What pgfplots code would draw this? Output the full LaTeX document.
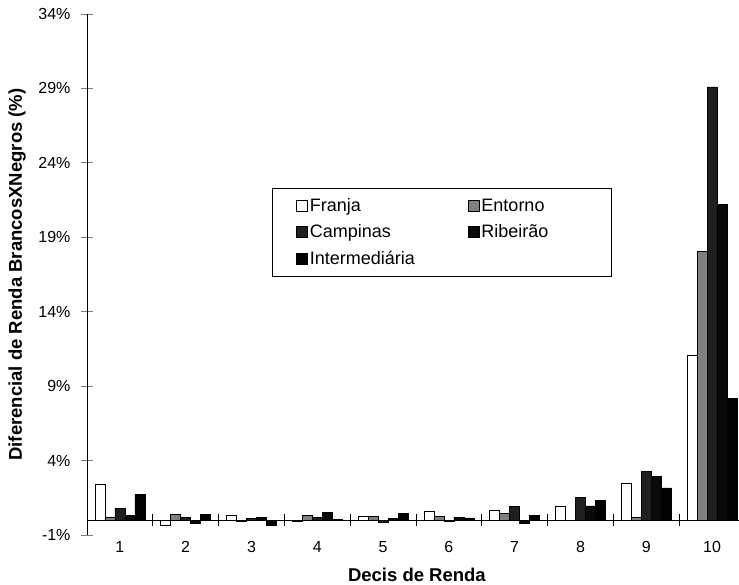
\documentclass[border=0pt]{standalone}
\usepackage{pgfplots}
\pgfplotsset{compat=1.18}
\usepackage{fontspec}
\setmainfont{Liberation Sans}
\newcommand{\tl}{\fontsize{16}{19}\selectfont}
\pgfplotsset{
  sqlegend/.style={legend image code/.code={\draw[##1,draw=black,line width=0.6pt] (0pt,-5.5pt) rectangle (11pt,5.5pt);}},
  mybar/.style={ybar, bar width=0.152, draw=black, line width=0.6pt, sqlegend},
}
\begin{document}
\begin{tikzpicture}
\begin{axis}[
  scale only axis, width=652pt, height=521pt,
  xmin=0.5, xmax=10.41, ymin=-1, ymax=34,
  axis y line*=left, axis x line*=bottom,
  x axis line style={draw=none},
  y axis line style={line width=0.8pt},
  xtick={1,2,3,4,5,6,7,8,9,10},
  xticklabels={{\tl 1},{\tl 2},{\tl 3},{\tl 4},{\tl 5},{\tl 6},{\tl 7},{\tl 8},{\tl 9},{\tl 10}},
  xtick style={draw=none},
  ytick={-1,4,9,14,19,24,29,34},
  yticklabels={{\tl -1\%},{\tl 4\%},{\tl 9\%},{\tl 14\%},{\tl 19\%},{\tl 24\%},{\tl 29\%},{\tl 34\%}},
  ytick style={line width=0.8pt},
  tick align=center, major tick length=12pt,
  xticklabel style={anchor=north, yshift=3pt},
  yticklabel style={anchor=east, xshift=-7pt},
  xlabel={Decis de Renda},
  ylabel={Diferencial de Renda BrancosXNegros (\%)},
  xlabel style={font=\bfseries\fontsize{18.5}{22}\selectfont, inner sep=0pt, at={(axis description cs:0.506,-0.090)}, anchor=base},
  ylabel style={font=\bfseries\fontsize{18.5}{22}\selectfont, at={(axis description cs:-0.107,0.5)}, anchor=center},
  legend columns=2,
  legend cell align=left,
  legend style={at={(axis cs:3.31,22.31)}, anchor=north west, draw=black, line width=0.8pt,
    font=\fontsize{18}{21}\selectfont, inner xsep=24pt, inner ysep=8pt,
    row sep=8pt,
    nodes={text width=104pt},
    /tikz/every even column/.append style={column sep=52pt}},
]
\addplot[mybar, bar shift=-0.304, fill=white] coordinates {
 (1,2.4) (2,-0.34) (3,0.34) (4,-0.11) (5,0.27) (6,0.56) (7,0.67) (8,0.9) (9,2.47) (10,11.1)};
\addlegendentry{Franja}
\addplot[mybar, bar shift=-0.152, fill=black!50] coordinates {
 (1,0.22) (2,0.4) (3,-0.1) (4,0.34) (5,0.27) (6,0.27) (7,0.45) (8,0.0) (9,0.2) (10,18.05)};
\addlegendentry{Entorno}
\addplot[mybar, bar shift=0, fill=black!88] coordinates {
 (1,0.79) (2,0.18) (3,0.1) (4,0.18) (5,-0.16) (6,-0.1) (7,0.9) (8,1.52) (9,3.29) (10,29.1)};
\addlegendentry{Campinas}
\addplot[mybar, bar shift=0.152, fill=black!96] coordinates {
 (1,0.34) (2,-0.22) (3,0.2) (4,0.5) (5,0.1) (6,0.2) (7,-0.22) (8,0.96) (9,2.96) (10,21.2)};
\addlegendentry{Ribeirão}
\addplot[mybar, bar shift=0.304, fill=black] coordinates {
 (1,1.75) (2,0.4) (3,-0.38) (4,0.05) (5,0.45) (6,0.15) (7,0.34) (8,1.34) (9,2.17) (10,8.2)};
\addlegendentry{Intermediária}
\draw[line width=0.8pt] (axis cs:0.5,0) -- (axis cs:10.6,0);
\pgfplotsinvokeforeach{1.5,2.5,3.5,4.5,5.5,6.5,7.5,8.5,9.5}{
  \draw[line width=0.8pt] ([yshift=-6pt]axis cs:#1,0) -- ([yshift=6pt]axis cs:#1,0);
}
\end{axis}
\pgfresetboundingbox
\useasboundingbox (-87pt,-50pt) rectangle (652pt,535pt);
\end{tikzpicture}
\end{document}
